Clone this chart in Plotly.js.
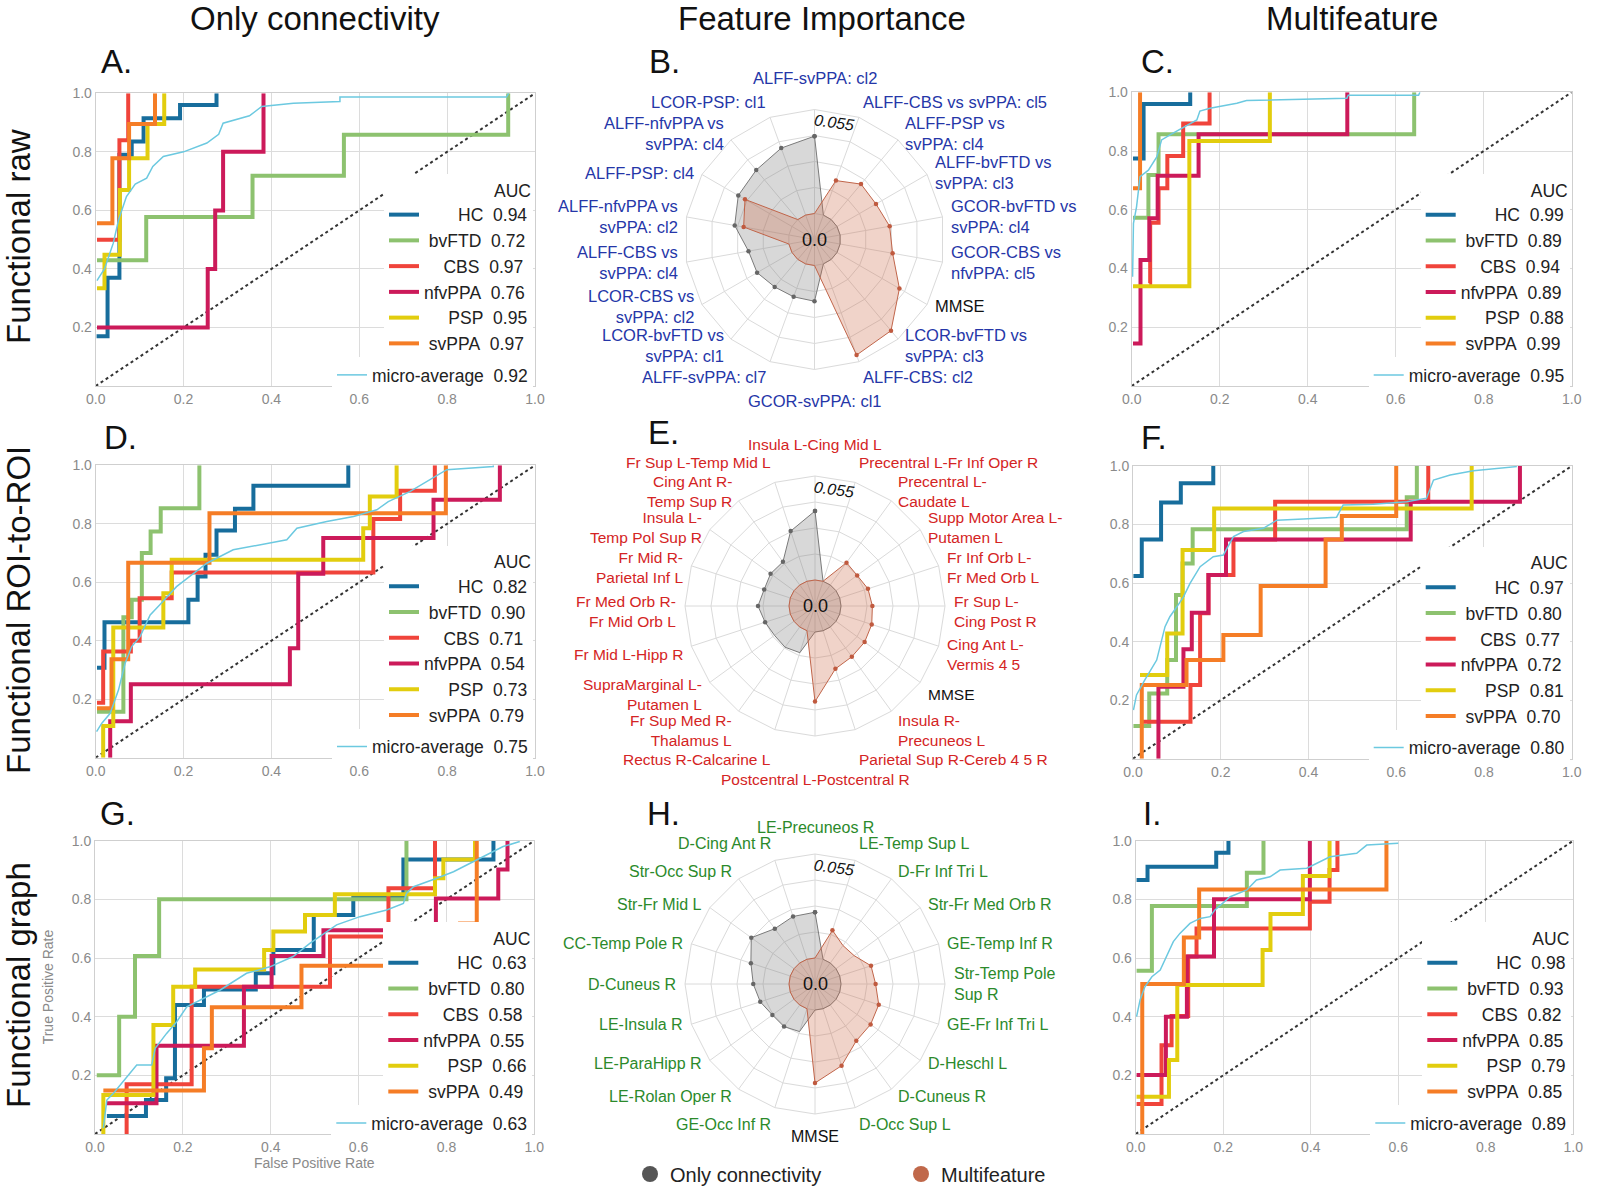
<!DOCTYPE html>
<html>
<head>
<meta charset="utf-8">
<script src="https://cdn.plot.ly/plotly-3.0.1.min.js"></script>
<style>html,body{margin:0;padding:0;background:#fff}#chart{width:1600px;height:1194px}</style>
</head>
<body>
<div id="chart"></div>
<script>
// ---------------- DATA ----------------
const CLASSES = ['HC', 'bvFTD', 'CBS', 'nfvPPA', 'PSP', 'svPPA'];
const MICRO_NAME = 'micro-average';
const CHANCE = [0, 1];
const X_TICKS = [0, 0.2, 0.4, 0.6, 0.8, 1.0];
const Y_TICKS = [0.2, 0.4, 0.6, 0.8, 1.0];

// Panel A (Functional raw, only connectivity)
const rocA_fpr = [
  [0.002, 0.027, 0.054, 0.082, 0.109, 0.192, 0.275],
  [0.003, 0.115, 0.357, 0.565, 0.939],
  [0.003, 0.054, 0.074],
  [0.003, 0.255, 0.272, 0.29, 0.382],
  [0.003, 0.02, 0.055, 0.076, 0.118, 0.156],
  [0.003, 0.038, 0.076, 0.135]
];
const rocA_tpr = [
  [0.17, 0.37, 0.79, 0.835, 0.915, 0.96, 1.0],
  [0.43, 0.577, 0.718, 0.858, 1.0],
  [0.50, 0.84, 1.0],
  [0.20, 0.40, 0.60, 0.80, 1.0],
  [0.334, 0.448, 0.67, 0.778, 0.895, 1.0],
  [0.556, 0.778, 0.895, 1.0]
];
const rocA_microFpr = [0.003, 0.006, 0.02, 0.04, 0.052, 0.063, 0.07, 0.09, 0.116, 0.13, 0.154, 0.2, 0.253, 0.28, 0.29, 0.35, 0.378, 0.45, 0.556, 0.556, 0.935, 0.94];
const rocA_microTpr = [0.36, 0.368, 0.40, 0.488, 0.567, 0.613, 0.647, 0.69, 0.71, 0.75, 0.784, 0.80, 0.83, 0.86, 0.898, 0.923, 0.955, 0.966, 0.972, 0.987, 0.987, 1.0];
const rocA_auc = [0.94, 0.72, 0.97, 0.76, 0.95, 0.97];
const rocA_microAuc = 0.92;

// Panel C (Functional raw, multifeature)
const rocC_fpr = [
  [0.003, 0.027, 0.133],
  [0.003, 0.038, 0.061, 0.642],
  [0.040, 0.042, 0.061, 0.081, 0.117, 0.177],
  [0.003, 0.02, 0.04, 0.059, 0.152, 0.49],
  [0.003, 0.131, 0.314],
  [0.003, 0.019]
];
const rocC_tpr = [
  [0.775, 0.96, 1.0],
  [0.573, 0.718, 0.857, 1.0],
  [0.35, 0.556, 0.673, 0.783, 0.894, 1.0],
  [0.145, 0.429, 0.571, 0.716, 0.857, 1.0],
  [0.34, 0.834, 1.0],
  [0.673, 1.0]
];
const rocC_microFpr = [0.002, 0.004, 0.011, 0.019, 0.038, 0.057, 0.068, 0.087, 0.148, 0.155, 0.178, 0.239, 0.261, 0.489, 0.492, 0.652, 0.655];
const rocC_microTpr = [0.372, 0.554, 0.61, 0.713, 0.735, 0.78, 0.838, 0.855, 0.906, 0.936, 0.946, 0.963, 0.972, 0.98, 0.99, 0.99, 1.0];
const rocC_auc = [0.99, 0.89, 0.94, 0.89, 0.88, 0.99];
const rocC_microAuc = 0.95;

// Panel D (ROI-to-ROI, only connectivity)
const rocD_fpr = [
  [0.003, 0.02, 0.211, 0.232, 0.25, 0.275, 0.317, 0.359, 0.575],
  [0.003, 0.063, 0.082, 0.105, 0.125, 0.148, 0.236],
  [0.003, 0.017, 0.08, 0.10, 0.173, 0.632, 0.693, 0.772],
  [0.033, 0.033, 0.08, 0.442, 0.461, 0.518, 0.769, 0.92],
  [0.017, 0.017, 0.04, 0.154, 0.173, 0.609, 0.624, 0.685],
  [0.003, 0.036, 0.074, 0.259, 0.797]
];
const rocD_tpr = [
  [0.308, 0.463, 0.54, 0.62, 0.694, 0.777, 0.851, 0.93, 1.0],
  [0.157, 0.48, 0.54, 0.70, 0.774, 0.853, 1.0],
  [0.188, 0.363, 0.40, 0.545, 0.633, 0.816, 0.913, 1.0],
  [0, 0.125, 0.251, 0.374, 0.629, 0.751, 0.882, 1.0],
  [0, 0.108, 0.445, 0.562, 0.677, 0.785, 0.893, 1.0],
  [0.169, 0.337, 0.667, 0.836, 1.0]
];
const rocD_microFpr = [0.002, 0.014, 0.033, 0.052, 0.067, 0.082, 0.101, 0.124, 0.146, 0.184, 0.253, 0.313, 0.435, 0.458, 0.526, 0.587, 0.64, 0.666, 0.715, 0.799, 0.905, 0.905];
const rocD_microTpr = [0.089, 0.118, 0.152, 0.232, 0.323, 0.38, 0.414, 0.488, 0.523, 0.585, 0.665, 0.711, 0.745, 0.785, 0.808, 0.825, 0.848, 0.876, 0.91, 0.985, 0.996, 1.0];
const rocD_auc = [0.82, 0.90, 0.71, 0.54, 0.73, 0.79];
const rocD_microAuc = 0.75;

// Panel F (ROI-to-ROI, multifeature)
const rocF_fpr = [
  [0.001, 0.02, 0.064, 0.109, 0.183],
  [0.001, 0.037, 0.078, 0.098, 0.113, 0.136, 0.624, 0.647],
  [0.02, 0.131, 0.153, 0.172, 0.229, 0.324, 0.673],
  [0.058, 0.058, 0.115, 0.134, 0.172, 0.212, 0.633, 0.882],
  [0.016, 0.078, 0.113, 0.185, 0.772],
  [0.02, 0.02, 0.122, 0.206, 0.291, 0.439, 0.476, 0.6]
];
const rocF_tpr = [
  [0.624, 0.749, 0.875, 0.941, 1.0],
  [0.112, 0.223, 0.337, 0.559, 0.667, 0.784, 0.893, 1.0],
  [0.126, 0.252, 0.497, 0.628, 0.749, 0.878, 1.0],
  [0, 0.246, 0.374, 0.499, 0.628, 0.749, 0.878, 1.0],
  [0.286, 0.428, 0.713, 0.855, 1.0],
  [0, 0.252, 0.337, 0.423, 0.59, 0.749, 0.829, 1.0]
];
const rocF_microFpr = [0.001, 0.008, 0.027, 0.054, 0.073, 0.084, 0.1, 0.115, 0.13, 0.153, 0.183, 0.206, 0.229, 0.252, 0.297, 0.328, 0.388, 0.464, 0.479, 0.548, 0.624, 0.669, 0.685, 0.723, 0.776, 0.875];
const rocF_microTpr = [0.166, 0.218, 0.269, 0.337, 0.451, 0.485, 0.519, 0.553, 0.599, 0.656, 0.69, 0.696, 0.759, 0.776, 0.787, 0.815, 0.819, 0.825, 0.867, 0.869, 0.878, 0.89, 0.952, 0.969, 0.984, 0.998];
const rocF_auc = [0.97, 0.80, 0.77, 0.72, 0.81, 0.70];
const rocF_microAuc = 0.80;

// Panel G (graph, only connectivity)
const rocG_fpr = [
  [0.027, 0.116, 0.162, 0.182, 0.248, 0.366, 0.406, 0.498, 0.588, 0.702, 0.907],
  [0.004, 0.055, 0.091, 0.146, 0.709],
  [0.072, 0.072, 0.22, 0.535, 0.668, 0.774],
  [0.027, 0.14, 0.339, 0.402, 0.52, 0.776, 0.918, 0.939],
  [0.019, 0.019, 0.133, 0.178, 0.228, 0.385, 0.406, 0.478, 0.546, 0.774, 0.793, 0.865],
  [0.019, 0.248, 0.266, 0.47, 0.831, 0.869]
];
const rocG_tpr = [
  [0.061, 0.116, 0.19, 0.44, 0.493, 0.548, 0.627, 0.747, 0.809, 0.936, 1.0],
  [0.2, 0.4, 0.607, 0.8, 1.0],
  [0, 0.17, 0.502, 0.673, 0.838, 1.0],
  [0.105, 0.301, 0.502, 0.607, 0.695, 0.803, 0.902, 1.0],
  [0, 0.133, 0.372, 0.502, 0.561, 0.627, 0.69, 0.747, 0.817, 0.872, 0.936, 1.0],
  [0.148, 0.292, 0.432, 0.574, 0.718, 1.0]
];
const rocG_microFpr = [0.019, 0.027, 0.042, 0.072, 0.095, 0.129, 0.137, 0.163, 0.186, 0.209, 0.239, 0.285, 0.345, 0.398, 0.451, 0.489, 0.55, 0.603, 0.664, 0.702, 0.709, 0.725, 0.778, 0.816, 0.854, 0.892, 0.929, 0.967];
const rocG_microTpr = [0.02, 0.116, 0.139, 0.195, 0.235, 0.235, 0.292, 0.343, 0.383, 0.434, 0.457, 0.491, 0.548, 0.57, 0.605, 0.65, 0.713, 0.741, 0.764, 0.786, 0.82, 0.843, 0.872, 0.894, 0.923, 0.951, 0.98, 0.997];
const rocG_auc = [0.63, 0.80, 0.58, 0.55, 0.66, 0.49];
const rocG_microAuc = 0.63;

// Panel I (graph, multifeature)
const rocI_fpr = [
  [0.002, 0.027, 0.184, 0.212],
  [0.002, 0.037, 0.254, 0.292],
  [0.002, 0.059, 0.082, 0.12, 0.139, 0.398, 0.443, 0.461],
  [0.002, 0.069, 0.117, 0.179, 0.398],
  [0.002, 0.076, 0.095, 0.29, 0.308, 0.382, 0.443],
  [0.015, 0.015, 0.11, 0.145, 0.573]
];
const rocI_tpr = [
  [0.866, 0.911, 0.959, 1.0],
  [0.557, 0.777, 0.891, 1.0],
  [0.102, 0.303, 0.402, 0.605, 0.701, 0.792, 0.9, 1.0],
  [0.201, 0.4, 0.605, 0.8, 1.0],
  [0.127, 0.252, 0.508, 0.627, 0.75, 0.88, 1.0],
  [0, 0.511, 0.67, 0.834, 1.0]
];
const rocI_microFpr = [0.002, 0.01, 0.021, 0.037, 0.056, 0.071, 0.086, 0.101, 0.124, 0.147, 0.17, 0.181, 0.216, 0.254, 0.276, 0.307, 0.33, 0.391, 0.414, 0.444, 0.505, 0.528, 0.6];
const rocI_microTpr = [0.4, 0.457, 0.502, 0.536, 0.559, 0.605, 0.656, 0.684, 0.718, 0.735, 0.741, 0.764, 0.809, 0.832, 0.866, 0.877, 0.9, 0.906, 0.923, 0.945, 0.957, 0.985, 0.991];
const rocI_auc = [0.98, 0.93, 0.82, 0.85, 0.79, 0.85];
const rocI_microAuc = 0.89;

// Radar B (feature importance, functional raw) - clockwise from top
const radarB_labels = ['ALFF-svPPA: cl2', 'ALFF-CBS vs svPPA: cl5', 'ALFF-PSP vs<br>svPPA: cl4', 'ALFF-bvFTD vs<br>svPPA: cl3', 'GCOR-bvFTD vs<br>svPPA: cl4', 'GCOR-CBS vs<br>nfvPPA: cl5', 'MMSE', 'LCOR-bvFTD vs<br>svPPA: cl3', 'ALFF-CBS: cl2', 'GCOR-svPPA: cl1', 'ALFF-svPPA: cl7', 'LCOR-bvFTD vs<br>svPPA: cl1', 'LCOR-CBS vs<br>svPPA: cl2', 'ALFF-CBS vs<br>svPPA: cl4', 'ALFF-nfvPPA vs<br>svPPA: cl2', 'ALFF-PSP: cl4', 'ALFF-nfvPPA vs<br>svPPA: cl4', 'LCOR-PSP: cl1'];
const radarB_conn = [0.0409, 0, 0, 0, 0, 0, 0, 0, 0, 0.0189, 0.0185, 0.0190, 0.0213, 0.0217, 0.0291, 0.0328, 0.0342, 0.0377];
const radarB_multi = [0, 0.0194, 0.0245, 0.0238, 0.0266, 0.0282, 0.0381, 0.0492, 0.0513, 0, 0, 0, 0, 0, 0.0243, 0.0287, 0, 0];

// Radar E (feature importance, ROI-to-ROI)
const radarE_labels = ['Insula L-Cing Mid L', 'Precentral L-Fr Inf Oper R', 'Precentral L-<br>Caudate L', 'Supp Motor Area L-<br>Putamen L', 'Fr Inf Orb L-<br>Fr Med Orb L', 'Fr Sup L-<br>Cing Post R', 'Cing Ant L-<br>Vermis 4 5', 'MMSE', 'Insula R-<br>Precuneos L', 'Parietal Sup R-Cereb 4 5 R', 'Postcentral L-Postcentral R', 'Rectus R-Calcarine L', 'Fr Sup Med R-<br>Thalamus L', 'SupraMarginal L-<br>Putamen L', 'Fr Mid L-Hipp R', 'Fr Med Orb R-<br>Fr Mid Orb L', 'Fr Mid R-<br>Parietal Inf L', 'Insula L-<br>Temp Pol Sup R', 'Cing Ant R-<br>Temp Sup R', 'Fr Sup L-Temp Mid L'];
const radarE_conn = [0.0365, 0, 0, 0, 0, 0, 0, 0, 0, 0, 0, 0.0122, 0.0132, 0.0127, 0.0140, 0.0164, 0.0145, 0.0153, 0.0151, 0.0279];
const radarE_multi = [0, 0, 0.0146, 0.0138, 0.0157, 0.0166, 0.0178, 0.0187, 0.0194, 0.0212, 0.0368, 0, 0, 0, 0, 0, 0, 0, 0, 0];

// Radar H (feature importance, graph)
const radarH_labels = ['LE-Precuneos R', 'LE-Temp Sup L', 'D-Fr Inf Tri L', 'Str-Fr Med Orb R', 'GE-Temp Inf R', 'Str-Temp Pole<br>Sup R', 'GE-Fr Inf Tri L', 'D-Heschl L', 'D-Cuneus R', 'D-Occ Sup L', 'MMSE', 'GE-Occ Inf R', 'LE-Rolan Oper R', 'LE-ParaHipp R', 'LE-Insula R', 'D-Cuneus R', 'CC-Temp Pole R', 'Str-Fr Mid L', 'Str-Occ Sup R', 'D-Cing Ant R'];
const radarH_conn = [0.0242, 0, 0, 0, 0, 0, 0, 0, 0, 0, 0, 0.0127, 0.0141, 0.0141, 0.0167, 0.0189, 0.0219, 0.0279, 0.0224, 0.0238];
const radarH_multi = [0, 0.0161, 0.0114, 0.0118, 0.0174, 0.0183, 0.0217, 0.0226, 0.0234, 0.0317, 0.0386, 0, 0, 0, 0, 0, 0, 0, 0, 0];

const RADAR_MAX = 0.055;
const SERIES_NAMES = ['Only connectivity', 'Multifeature'];

// ---------------- STYLE / LAYOUT ----------------
const W = 1600, H = 1194;
const FONT = '"Liberation Sans", Arial, sans-serif';
const COLORS = ['#176d9c', '#8dc26f', '#f0443b', '#cc1a5a', '#e2cd0e', '#f57d26'];
const MICRO_COLOR = '#6cc9e0';
const px = v => v / W;
const py = v => 1 - v / H;

const ROC_PANELS = [
  {fpr: rocA_fpr, tpr: rocA_tpr, mf: rocA_microFpr, mt: rocA_microTpr, auc: rocA_auc, mauc: rocA_microAuc, x0: 95.7, x1: 535, y0: 93.3, y1: 386},
  {fpr: rocC_fpr, tpr: rocC_tpr, mf: rocC_microFpr, mt: rocC_microTpr, auc: rocC_auc, mauc: rocC_microAuc, x0: 1131.7, x1: 1571.7, y0: 92.3, y1: 386},
  {fpr: rocD_fpr, tpr: rocD_tpr, mf: rocD_microFpr, mt: rocD_microTpr, auc: rocD_auc, mauc: rocD_microAuc, x0: 95.7, x1: 535, y0: 465.3, y1: 757.7},
  {fpr: rocF_fpr, tpr: rocF_tpr, mf: rocF_microFpr, mt: rocF_microTpr, auc: rocF_auc, mauc: rocF_microAuc, x0: 1133, x1: 1571.7, y0: 466, y1: 758.7},
  {fpr: rocG_fpr, tpr: rocG_tpr, mf: rocG_microFpr, mt: rocG_microTpr, auc: rocG_auc, mauc: rocG_microAuc, x0: 95, x1: 534.3, y0: 840.7, y1: 1134, titles: true},
  {fpr: rocI_fpr, tpr: rocI_tpr, mf: rocI_microFpr, mt: rocI_microTpr, auc: rocI_auc, mauc: rocI_microAuc, x0: 1135.7, x1: 1573.3, y0: 840.7, y1: 1134}
];

const RADARS = [
  {labels: radarB_labels, conn: radarB_conn, multi: radarB_multi, cx: 814.5, cy: 239.5, color: '#2536a8', ry: 160, dy: 0, topExtra: 2, botExtra: 1, fs: 16.5},
  {labels: radarE_labels, conn: radarE_conn, multi: radarE_multi, cx: 815, cy: 606, color: '#d42424', ry: 170, dy: 5, topExtra: -4, botExtra: -2, fs: 15.5},
  {labels: radarH_labels, conn: radarH_conn, multi: radarH_multi, cx: 815, cy: 984, color: '#2b8a2b', ry: 160, dy: 0, topExtra: -3, botExtra: -8, fs: 16}
];

const LEG_FONT = 17.5;
const ctx = document.createElement('canvas').getContext('2d');
ctx.font = LEG_FONT + 'px "Liberation Sans"';
const tw = s => ctx.measureText(s).width;
const NB = '\u00a0';
const maxNameW = Math.max(...CLASSES.map(tw));
function legendName(n, v) {
  const cnt = Math.max(0, Math.round((maxNameW - tw(n)) / tw(NB)));
  return NB.repeat(cnt) + n + NB + NB + v.toFixed(2);
}

const traces = [];
const annotations = [];
const layout = {
  width: W, height: H,
  margin: {l: 0, r: 0, t: 0, b: 0},
  paper_bgcolor: '#fff', plot_bgcolor: '#fff',
  font: {family: FONT, color: '#222'},
  showlegend: true,
  annotations: annotations
};

const axisBase = {
  range: [0, 1], showgrid: true, gridcolor: '#dcdcdc', gridwidth: 1,
  zeroline: false, showline: true, mirror: true, linecolor: '#cfcfcf', linewidth: 1,
  ticks: '', tickmode: 'array', tickformat: '.1f',
  tickfont: {family: FONT, size: 14, color: '#8a8a8a'}, fixedrange: true
};

ROC_PANELS.forEach((p, k) => {
  const xa = k === 0 ? 'x' : 'x' + (k + 1);
  const ya = k === 0 ? 'y' : 'y' + (k + 1);
  const legMicro = k === 0 ? 'legend' : 'legend' + (2 * k + 1);
  const legCls = 'legend' + (2 * k + 2);
  layout[k === 0 ? 'xaxis' : 'xaxis' + (k + 1)] = Object.assign({}, axisBase, {domain: [px(p.x0), px(p.x1)], anchor: ya, tickvals: X_TICKS});
  layout[k === 0 ? 'yaxis' : 'yaxis' + (k + 1)] = Object.assign({}, axisBase, {domain: [py(p.y1), py(p.y0)], anchor: xa, tickvals: Y_TICKS});

  traces.push({x: CHANCE, y: CHANCE, xaxis: xa, yaxis: ya, mode: 'lines', line: {color: '#333', dash: 'dot', width: 2}, showlegend: false, hoverinfo: 'skip'});
  CLASSES.forEach((c, i) => {
    traces.push({
      x: p.fpr[i], y: p.tpr[i], xaxis: xa, yaxis: ya, mode: 'lines',
      line: {color: COLORS[i], width: 4, shape: 'hv'},
      name: legendName(c, p.auc[i]), legend: legCls, hoverinfo: 'skip'
    });
  });
  traces.push({
    x: p.mf, y: p.mt, xaxis: xa, yaxis: ya, mode: 'lines',
    line: {color: MICRO_COLOR, width: 1.5},
    name: MICRO_NAME + NB + NB + p.mauc.toFixed(2), legend: legMicro, hoverinfo: 'skip'
  });

  const right = px(p.x1) - 2 / W;
  layout[legCls] = {
    x: right, xanchor: 'right', y: py(p.y1 - 118), yanchor: 'middle',
    bgcolor: '#fff', borderwidth: 0, font: {family: FONT, size: LEG_FONT, color: '#222'},
    title: {text: 'AUC', side: 'top right', font: {family: FONT, size: LEG_FONT, color: '#222'}},
    itemwidth: 30, tracegroupgap: 0, traceorder: 'normal'
  };
  layout[legMicro] = {
    x: right, xanchor: 'right', y: py(p.y1 - 11), yanchor: 'middle',
    bgcolor: '#fff', borderwidth: 0, font: {family: FONT, size: LEG_FONT, color: '#222'},
    itemwidth: 30, tracegroupgap: 0
  };

  if (p.titles) {
    annotations.push({xref: 'paper', yref: 'paper', x: px((p.x0 + p.x1) / 2), y: py(p.y1 + 29), text: 'False Positive Rate', showarrow: false, xanchor: 'center', yanchor: 'middle', font: {family: FONT, size: 14, color: '#8a8a8a'}});
    annotations.push({xref: 'paper', yref: 'paper', x: px(48), y: py((p.y0 + p.y1) / 2), text: 'True Positive Rate', textangle: -90, showarrow: false, xanchor: 'center', yanchor: 'middle', font: {family: FONT, size: 14, color: '#8a8a8a'}});
  }
});

const R_PX = 130;
const LABEL_RX = 137;
RADARS.forEach((r, k) => {
  const id = k === 0 ? 'polar' : 'polar' + (k + 1);
  const n = r.labels.length;
  const cats = r.labels.map((l, i) => 'c' + i);
  const closed = arr => arr.concat([arr[0]]);
  layout[id] = {
    domain: {x: [px(r.cx - R_PX), px(r.cx + R_PX)], y: [py(r.cy + R_PX), py(r.cy - R_PX)]},
    bgcolor: '#fff', gridshape: 'linear',
    radialaxis: {range: [-RADAR_MAX / 4, RADAR_MAX], tickmode: 'linear', tick0: 0, dtick: RADAR_MAX / 4, showticklabels: false, ticks: '', showline: false, gridcolor: '#dadada', gridwidth: 1},
    angularaxis: {type: 'category', categoryorder: 'array', categoryarray: cats, direction: 'clockwise', rotation: 90,
      showticklabels: false, ticks: '', showline: true, linecolor: '#dadada', gridcolor: '#dadada'}
  };
  traces.push({type: 'scatterpolar', subplot: id, r: closed(r.conn), theta: closed(cats), mode: 'lines+markers', fill: 'toself',
    fillcolor: 'rgba(125,125,125,0.30)', line: {color: '#7a7a7a', width: 1}, marker: {size: 4.5, color: '#666'}, showlegend: false, hoverinfo: 'skip'});
  traces.push({type: 'scatterpolar', subplot: id, r: closed(r.multi), theta: closed(cats), mode: 'lines+markers', fill: 'toself',
    fillcolor: 'rgba(205,110,75,0.30)', line: {color: '#c0654a', width: 1}, marker: {size: 4.5, color: '#c05a3f'}, showlegend: false, hoverinfo: 'skip'});
  annotations.push({xref: 'paper', yref: 'paper', x: px(r.cx), y: py(r.cy), text: '0.0', showarrow: false, xanchor: 'center', yanchor: 'middle', font: {family: FONT, size: 18, color: '#111'}});
  annotations.push({xref: 'paper', yref: 'paper', x: px(r.cx + 19), y: py(r.cy - 117), text: '<i>' + RADAR_MAX + '</i>', textangle: 8, showarrow: false, xanchor: 'center', yanchor: 'middle', font: {family: FONT, size: 16, color: '#111'}});
  // category labels around the radar
  r.labels.forEach((lab, i) => {
    const th = (90 - i * 360 / n) * Math.PI / 180;
    const c = Math.cos(th), s = Math.sin(th);
    const elev = Math.asin(Math.max(-1, Math.min(1, s))) / (Math.PI / 2);
    let yoff = r.ry * (0.5 * s + 0.5 * elev);
    if (Math.abs(s) > 0.999) yoff += s > 0 ? r.topExtra : -r.botExtra;
    const anchor = Math.abs(c) < 0.2 ? 'center' : (c > 0 ? 'left' : 'right');
    annotations.push({xref: 'paper', yref: 'paper', x: px(r.cx + LABEL_RX * c), y: py(r.cy - yoff + r.dy), text: lab,
      showarrow: false, xanchor: anchor, yanchor: 'middle', align: anchor,
      font: {family: FONT, size: r.fs, color: lab === 'MMSE' ? '#111' : r.color}});
  });
});

// legend for radar series
traces.push({type: 'scatterpolar', subplot: 'polar3', r: [null], theta: [null], mode: 'markers', marker: {size: 16, color: '#555'}, name: SERIES_NAMES[0], legend: 'legend13', hoverinfo: 'skip'});
traces.push({type: 'scatterpolar', subplot: 'polar3', r: [null], theta: [null], mode: 'markers', marker: {size: 16, color: '#c0684a'}, name: SERIES_NAMES[1], legend: 'legend13', hoverinfo: 'skip'});
layout.legend13 = {orientation: 'h', x: px(630), xanchor: 'left', y: py(1174), yanchor: 'middle', bgcolor: 'rgba(0,0,0,0)',
  font: {family: FONT, size: 20, color: '#222'}, entrywidth: 226, entrywidthmode: 'pixels', itemwidth: 30};

// column / row titles and panel letters
[['Only connectivity', 315], ['Feature Importance', 822], ['Multifeature', 1352]].forEach(([t, x]) => {
  annotations.push({xref: 'paper', yref: 'paper', x: px(x), y: py(19), text: t, showarrow: false, xanchor: 'center', yanchor: 'middle', font: {family: FONT, size: 33, color: '#111'}});
});
[['Functional raw', 237], ['Functional ROI-to-ROI', 610], ['Functional graph', 985]].forEach(([t, y]) => {
  annotations.push({xref: 'paper', yref: 'paper', x: px(18), y: py(y), text: t, textangle: -90, showarrow: false, xanchor: 'center', yanchor: 'middle', font: {family: FONT, size: 33, color: '#111'}});
});
[['A.', 99, 61], ['B.', 647, 61], ['C.', 1139, 61], ['D.', 102, 437], ['E.', 646, 433], ['F.', 1139, 437], ['G.', 98, 813], ['H.', 645, 813], ['I.', 1141, 813]].forEach(([t, x, y]) => {
  annotations.push({xref: 'paper', yref: 'paper', x: px(x), y: py(y), text: t, showarrow: false, xanchor: 'left', yanchor: 'middle', font: {family: FONT, size: 33, color: '#111'}});
});

Plotly.newPlot('chart', traces, layout, {displayModeBar: false, staticPlot: true});
</script>
</body>
</html>
